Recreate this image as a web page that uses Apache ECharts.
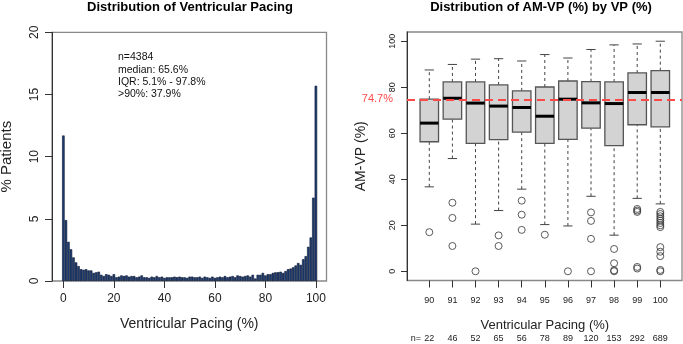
<!DOCTYPE html>
<html>
<head>
<meta charset="utf-8">
<script src="https://cdn.jsdelivr.net/npm/echarts@6/dist/echarts.min.js"></script>
<style>
html, body { margin: 0; padding: 0; background: #fff; }
#main { width: 683px; height: 344px; }
</style>
</head>
<body>
<div id="main"></div>
<script>
// left panel: histogram of ventricular pacing, % of patients per 1% bin (0..100)
var vpPct = [
    11.7, 4.9, 3.15, 2.55, 1.9, 1.5, 1.2, 0.95, 0.9, 0.95,
    0.85, 0.85, 0.65, 0.7, 0.75, 0.5, 0.4, 0.55, 0.5, 0.4,
    0.55, 0.3, 0.35, 0.45, 0.4, 0.45, 0.35, 0.4, 0.4, 0.3,
    0.35, 0.45, 0.3, 0.3, 0.25, 0.35, 0.3, 0.4, 0.3, 0.35,
    0.25, 0.3, 0.3, 0.3, 0.35, 0.3, 0.35, 0.3, 0.3, 0.25,
    0.35, 0.35, 0.3, 0.3, 0.35, 0.25, 0.35, 0.3, 0.25, 0.35,
    0.25, 0.3, 0.35, 0.3, 0.4, 0.3, 0.35, 0.4, 0.3, 0.45,
    0.4, 0.35, 0.4, 0.45, 0.35, 0.5, 0.2, 0.5, 0.5, 0.65,
    0.45, 0.55, 0.55, 0.65, 0.7, 0.7, 0.75, 0.65, 0.8, 0.95,
    1.0, 1.1, 1.25, 1.45, 1.3, 1.75, 2.0, 2.75, 3.5, 6.7,
    15.7
];
var histXTicks = [0, 20, 40, 60, 80, 100];
var histYTicks = [0, 5, 10, 15, 20];
var statLines = ['n=4384', 'median: 65.6%', 'IQR: 5.1% - 97.8%', '>90%: 37.9%'];

// right panel: AM-VP (%) by VP (%)
var vpGroups = ['90', '91', '92', '93', '94', '95', '96', '97', '98', '99', '100'];
var nCounts = [22, 46, 52, 65, 56, 78, 89, 120, 153, 292, 689];
var whiskerLow = [36.7, 49, 20.5, 26.4, 35.7, 20.3, 19.7, 32.6, 15.7, 31.7, 29.3];
var q1 = [56.3, 66.1, 55.6, 57.2, 60.5, 55.6, 57.3, 62.2, 54.6, 63.7, 62.8];
var medians = [64.4, 75.2, 73.1, 71.8, 71.2, 67.4, 74.8, 73.2, 72.9, 77.7, 77.7];
var q3 = [74.8, 82.3, 82.3, 81, 78.4, 80.1, 82.7, 82.4, 82.3, 86.2, 87.2];
var whiskerHigh = [87.5, 89.9, 92.2, 92.4, 91.4, 94.2, 92.7, 96.4, 98.4, 98.8, 100];
var outliers = [
    [17],
    [29.8, 23.2, 11],
    [0],
    [15.6, 11],
    [30.7, 24.6, 18],
    [15.9],
    [0],
    [25.6, 21.9, 14.1, 0],
    [9.7, 3.5, 0.4, 0],
    [27.1, 26.4, 25.8, 1.9, 1.2],
    [25.8, 24.9, 23.9, 22.9, 22, 21, 20, 19.2, 10.5, 8.5, 6.6, 0.6, 0]
];
var boxYTicks = [0, 20, 40, 60, 80, 100];
var refLine = 74.7;

var FONT = 'Liberation Sans, Arial, sans-serif';

var histData = vpPct.map(function (v, i) { return [i, v]; });
var boxData = vpGroups.map(function (g, i) {
    return [i, whiskerLow[i], q1[i], medians[i], q3[i], whiskerHigh[i]];
});
var outlierData = [];
outliers.forEach(function (list, i) {
    list.forEach(function (v) { outlierData.push([i, v]); });
});

var chart = echarts.init(document.getElementById('main'));

function renderBox(params, api) {
    var x = api.value(0);
    var band = api.size([1, 0])[0];
    var half = band * 0.4;
    var cap = half * 0.5;
    var pLow = api.coord([x, api.value(1)]);
    var pQ1 = api.coord([x, api.value(2)]);
    var pMed = api.coord([x, api.value(3)]);
    var pQ3 = api.coord([x, api.value(4)]);
    var pHigh = api.coord([x, api.value(5)]);
    var cx = pMed[0];
    var dash = { stroke: '#444', lineWidth: 1, lineDash: [3, 3] };
    var solid = { stroke: '#444', lineWidth: 1 };
    return {
        type: 'group',
        children: [
            { type: 'line', shape: { x1: cx, y1: pLow[1], x2: cx, y2: pQ1[1] }, style: dash },
            { type: 'line', shape: { x1: cx, y1: pQ3[1], x2: cx, y2: pHigh[1] }, style: dash },
            { type: 'line', shape: { x1: cx - cap, y1: pLow[1], x2: cx + cap, y2: pLow[1] }, style: solid },
            { type: 'line', shape: { x1: cx - cap, y1: pHigh[1], x2: cx + cap, y2: pHigh[1] }, style: solid },
            {
                type: 'rect',
                shape: { x: cx - half, y: pQ3[1], width: half * 2, height: pQ1[1] - pQ3[1] },
                style: { fill: '#d3d3d3', stroke: '#555', lineWidth: 1.3 }
            },
            {
                type: 'line',
                shape: { x1: cx - half, y1: pMed[1], x2: cx + half, y2: pMed[1] },
                style: { stroke: '#000', lineWidth: 3 }
            }
        ]
    };
}

var graphics = [
    {
        type: 'text', x: 190, y: 7,
        style: { text: 'Distribution of Ventricular Pacing', font: 'bold 13px ' + FONT, fill: '#000', align: 'center', verticalAlign: 'middle' }
    },
    {
        type: 'text', x: 541, y: 7,
        style: { text: 'Distribution of AM-VP (%) by VP (%)', font: 'bold 13px ' + FONT, fill: '#000', align: 'center', verticalAlign: 'middle' }
    },
    {
        type: 'text', x: 416, y: 339,
        style: { text: 'n=', font: '9px ' + FONT, fill: '#222', align: 'center', verticalAlign: 'middle' }
    }
];
statLines.forEach(function (s, i) {
    graphics.push({
        type: 'text', x: 118, y: 57.5 + i * 12.3,
        style: { text: s, font: '10.5px ' + FONT, fill: '#111', align: 'left', verticalAlign: 'middle' }
    });
});

var option = {
    backgroundColor: '#fff',
    animation: false,
    textStyle: { fontFamily: FONT },
    graphic: graphics,
    grid: [
        { left: 52, top: 32.3, width: 274.5, height: 248.7, show: true, borderColor: '#888', borderWidth: 1.3, backgroundColor: 'transparent', outerBoundsMode: 'none' },
        { left: 407, top: 32, width: 275, height: 248.5, show: true, borderColor: '#888', borderWidth: 1.3, backgroundColor: 'transparent', outerBoundsMode: 'none' },
        { left: 417.75, top: 32, width: 254.1, height: 248.5, outerBoundsMode: 'none' }
    ],
    xAxis: [
        {
            gridIndex: 0, type: 'value', min: -4.5, max: 104.2,
            axisLine: { show: false, onZero: false },
            axisTick: { show: true, customValues: histXTicks, length: 7, lineStyle: { color: '#333' } },
            axisLabel: { customValues: histXTicks, fontSize: 12, margin: 12, color: '#222' },
            splitLine: { show: false },
            name: 'Ventricular Pacing (%)', nameLocation: 'middle', nameGap: 36,
            nameTextStyle: { fontSize: 14, color: '#222' }
        },
        { gridIndex: 1, type: 'value', min: 0, max: 1, show: false },
        {
            gridIndex: 2, type: 'category', data: vpGroups,
            axisLine: { show: false, onZero: false },
            axisTick: { show: true, alignWithLabel: true, length: 7, lineStyle: { color: '#333' } },
            axisLabel: { fontSize: 9, margin: 16, color: '#222' },
            splitLine: { show: false },
            name: 'Ventricular Pacing (%)', nameLocation: 'middle', nameGap: 38,
            nameTextStyle: { fontSize: 13, color: '#222' }
        },
        {
            gridIndex: 2, type: 'category', data: nCounts.map(String), position: 'bottom', offset: 54,
            axisLine: { show: false, onZero: false }, axisTick: { show: false },
            axisLabel: { fontSize: 9, margin: 0, color: '#222' },
            splitLine: { show: false }
        }
    ],
    yAxis: [
        {
            gridIndex: 0, type: 'value', min: 0, max: 20,
            axisLine: { show: true, onZero: false, lineStyle: { color: '#333' } },
            axisTick: { show: true, customValues: histYTicks, length: 7, lineStyle: { color: '#333' } },
            axisLabel: { customValues: histYTicks, fontSize: 12, rotate: 90, margin: 11, color: '#222' },
            splitLine: { show: false },
            name: '% Patients', nameLocation: 'middle', nameGap: 38,
            nameTextStyle: { fontSize: 15, color: '#222' }
        },
        {
            gridIndex: 1, type: 'value', min: -4, max: 104,
            axisLine: { show: true, onZero: false, lineStyle: { color: '#333' } },
            axisTick: { show: true, customValues: boxYTicks, length: 6, lineStyle: { color: '#333' } },
            axisLabel: { customValues: boxYTicks, fontSize: 9, rotate: 90, margin: 10, color: '#222' },
            splitLine: { show: false },
            name: 'AM-VP (%)', nameLocation: 'middle', nameGap: 39,
            nameTextStyle: { fontSize: 14, color: '#222' }
        },
        { gridIndex: 2, type: 'value', min: -4, max: 104, show: false }
    ],
    series: [
        {
            type: 'bar', xAxisIndex: 0, yAxisIndex: 0,
            data: histData, barWidth: '100%',
            itemStyle: { color: '#1f3d73', borderColor: '#0a1530', borderWidth: 0.6 }
        },
        {
            type: 'custom', xAxisIndex: 2, yAxisIndex: 2,
            renderItem: renderBox,
            encode: { x: 0, y: [1, 2, 3, 4, 5] },
            data: boxData
        },
        {
            type: 'scatter', xAxisIndex: 2, yAxisIndex: 2,
            data: outlierData, symbol: 'circle', symbolSize: 7,
            itemStyle: { color: 'rgba(0,0,0,0)', borderColor: '#333', borderWidth: 1 }
        },
        {
            type: 'line', xAxisIndex: 1, yAxisIndex: 1, data: [], z: 5,
            markLine: {
                silent: true, symbol: 'none',
                lineStyle: { color: '#ff4a4a', type: [8, 5], width: 2 },
                label: { position: 'start', formatter: refLine + '%', color: '#ff4a4a', fontSize: 11, distance: 14 },
                data: [{ yAxis: refLine }]
            }
        }
    ]
};

chart.setOption(option);
</script>
</body>
</html>
